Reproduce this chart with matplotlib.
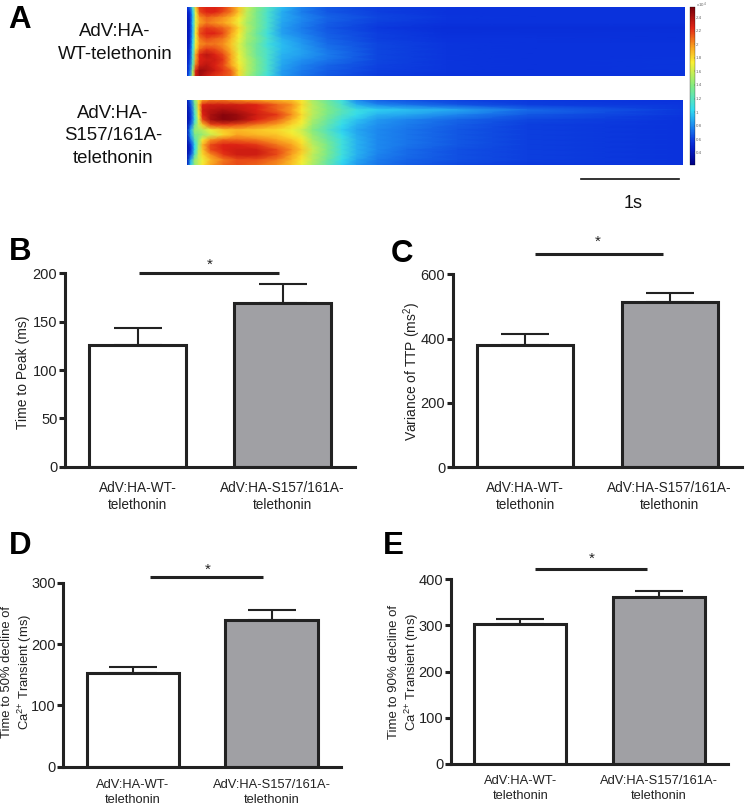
"""Panel figure: Ca2+ transient line scans (A) and bar summaries (B-E)."""
import matplotlib
matplotlib.use("Agg")
import matplotlib.pyplot as plt
from matplotlib.lines import Line2D
from matplotlib.colors import LinearSegmentedColormap, Normalize
from matplotlib.transforms import Affine2D

plt.rcParams["font.family"] = ["Liberation Sans", "DejaVu Sans"]
plt.rcParams["mathtext.default"] = "regular"

W, H = 745, 806
INK = "#222222"
GREY = "#a0a0a4"

# heatmap data, fluorescence x10^4, rows top to bottom
wt_time = [0, .03, .06, .09, .13, .2, .29, .37, .45, .53, .61, .71, .82, .97, 1.17, 1.43, 1.94, 2.65, 3.57, 5.08]
wt_scan = [
    [.55, .70, 1.2, 1.85, 2.20, 2.25, 2.25, 2.20, 2.05, 1.85, 1.60, 1.40, 1.20, .95, .78, .66, .60, .57, .56, .56],
    [.45, .55, 1.0, 1.70, 2.15, 2.25, 2.25, 2.15, 2.05, 1.85, 1.55, 1.35, 1.15, .90, .76, .66, .60, .56, .56, .56],
    [.40, .52, .95, 1.70, 2.00, 2.10, 2.05, 2.00, 1.90, 1.75, 1.55, 1.35, 1.15, .90, .80, .70, .62, .57, .56, .56],
    [.38, .50, 1.0, 1.65, 1.95, 2.05, 2.00, 1.95, 1.85, 1.70, 1.50, 1.35, 1.15, .88, .78, .68, .60, .56, .56, .56],
    [.38, .50, .95, 1.70, 2.10, 2.20, 2.15, 2.10, 2.00, 1.80, 1.55, 1.35, 1.15, .86, .76, .66, .58, .54, .54, .54],
    [.38, .50, .95, 1.75, 2.15, 2.25, 2.25, 2.15, 1.95, 1.75, 1.50, 1.30, 1.10, .86, .78, .68, .60, .55, .55, .55],
    [.38, .52, 1.0, 1.70, 2.05, 2.15, 2.10, 2.05, 1.90, 1.70, 1.50, 1.35, 1.15, .92, .82, .70, .60, .56, .56, .55],
    [.38, .52, 1.05, 1.75, 2.00, 2.05, 2.05, 2.00, 1.85, 1.65, 1.45, 1.30, 1.10, .94, .84, .72, .62, .57, .56, .56],
    [.40, .58, 1.1, 1.80, 2.10, 2.20, 2.15, 2.05, 1.90, 1.65, 1.50, 1.30, 1.15, .94, .86, .74, .62, .57, .56, .56],
    [.42, .58, 1.15, 1.95, 2.25, 2.35, 2.25, 2.15, 1.95, 1.70, 1.50, 1.30, 1.15, .92, .86, .76, .62, .57, .56, .56],
    [.44, .62, 1.2, 1.95, 2.25, 2.30, 2.30, 2.20, 1.95, 1.70, 1.55, 1.35, 1.15, .90, .82, .74, .62, .57, .56, .57],
    [.46, .68, 1.3, 2.05, 2.30, 2.35, 2.25, 2.15, 1.95, 1.75, 1.55, 1.35, 1.15, .88, .78, .70, .61, .57, .56, .57],
    [.46, .72, 1.5, 2.25, 2.45, 2.40, 2.30, 2.20, 2.10, 1.80, 1.55, 1.35, 1.15, .85, .76, .68, .60, .57, .56, .57],
    [.50, .82, 1.6, 2.30, 2.42, 2.30, 2.20, 2.15, 2.10, 1.80, 1.50, 1.30, 1.10, .84, .74, .66, .59, .56, .56, .56],
]
mut_time = [0, .04, .08, .12, .16, .24, .37, .51, .71, .92, 1.07, 1.17, 1.28, 1.43, 1.58, 1.73, 1.94, 2.24, 2.76, 3.47, 5.06]
mut_scan = [
    [.40, .75, 1.40, 1.75, 1.95, 2.05, 2.05, 2.00, 1.95, 1.90, 1.85, 1.75, 1.50, 1.30, 1.10, .80, .68, .64, .60, .58, .56],
    [.36, .66, 1.30, 1.85, 2.25, 2.30, 2.30, 2.30, 2.25, 2.10, 2.00, 1.80, 1.55, 1.35, 1.15, .92, .80, .74, .66, .60, .57],
    [.34, .62, 1.20, 1.80, 2.30, 2.35, 2.40, 2.35, 2.25, 2.10, 1.95, 1.75, 1.55, 1.38, 1.22, 1.08, 1.00, .95, .88, .72, .58],
    [.33, .58, 1.15, 1.75, 2.25, 2.40, 2.50, 2.45, 2.30, 2.20, 2.00, 1.80, 1.55, 1.35, 1.18, 1.05, .92, .88, .78, .66, .57],
    [.33, .58, 1.10, 1.65, 2.15, 2.40, 2.50, 2.45, 2.25, 2.10, 1.90, 1.75, 1.50, 1.30, 1.10, .96, .84, .78, .70, .62, .56],
    [.36, .70, 1.30, 1.60, 1.85, 2.15, 2.20, 2.15, 2.05, 1.95, 1.80, 1.70, 1.45, 1.25, 1.05, .92, .82, .76, .68, .60, .56],
    [.40, .92, 1.45, 1.50, 1.55, 1.70, 1.85, 1.90, 1.85, 1.80, 1.70, 1.60, 1.40, 1.20, 1.00, .88, .80, .74, .66, .60, .56],
    [.40, .88, 1.35, 1.40, 1.45, 1.60, 1.80, 1.95, 1.90, 1.85, 1.75, 1.65, 1.45, 1.25, 1.05, .90, .80, .74, .66, .60, .56],
    [.36, .75, 1.20, 1.45, 1.75, 2.00, 2.10, 2.10, 2.05, 1.95, 1.85, 1.75, 1.50, 1.30, 1.10, .92, .80, .74, .66, .60, .56],
    [.33, .58, 1.05, 1.50, 1.90, 2.15, 2.25, 2.25, 2.20, 2.05, 1.95, 1.80, 1.55, 1.35, 1.10, .92, .80, .74, .66, .60, .56],
    [.33, .54, 1.05, 1.55, 1.85, 2.15, 2.25, 2.30, 2.30, 2.15, 2.00, 1.85, 1.60, 1.35, 1.10, .92, .80, .72, .64, .60, .56],
    [.36, .66, 1.20, 1.60, 1.80, 2.00, 2.20, 2.30, 2.30, 2.15, 1.95, 1.80, 1.55, 1.35, 1.10, .92, .78, .72, .64, .60, .56],
    [.38, .90, 1.45, 1.60, 1.70, 1.90, 2.05, 2.15, 2.15, 2.05, 1.90, 1.75, 1.55, 1.30, 1.05, .88, .76, .70, .64, .60, .56],
    [.44, 1.00, 1.45, 1.60, 1.75, 1.95, 2.10, 2.15, 2.10, 2.00, 1.85, 1.70, 1.50, 1.25, 1.00, .84, .74, .68, .62, .58, .56],
]
cbar_ticks = [0.4, 0.6, 0.8, 1, 1.2, 1.4, 1.6, 1.8, 2, 2.2, 2.4]

# jet as it looks in the scanned figure, a bit duller than the real one
scan_cmap = LinearSegmentedColormap.from_list("scan_jet", [
    (0.00, "#000082"), (0.10, "#051ec8"), (0.146, "#0a32dc"), (0.25, "#1e8cf0"),
    (0.35, "#32dcf0"), (0.50, "#82eb82"), (0.65, "#faf032"), (0.75, "#faa01e"),
    (0.87, "#e12314"), (1.00, "#78000a"),
])

# bar data
groups = ["AdV:HA-WT-\ntelethonin", "AdV:HA-S157/161A-\ntelethonin"]
ttp_mean, ttp_err = [126, 169], [17, 20]
var_mean, var_err = [380, 513], [33, 28]
t50_mean, t50_err = [152, 240], [10, 15]
t90_mean, t90_err = [302, 362], [12, 13]


fig = plt.figure(figsize=(W / 100, H / 100), dpi=100)
# pixel coordinates, y down, same as the reference image
px = Affine2D().scale(1 / W, -1 / H).translate(0, 1) + fig.transFigure


def box(x0, y0, x1, y1):
    return fig.add_axes([x0 / W, 1 - y1 / H, (x1 - x0) / W, (y1 - y0) / H])


def scan(ax, t, rows, norm):
    mesh = ax.pcolormesh(t, range(len(rows)), rows, cmap=scan_cmap, norm=norm,
                         shading="gouraud", rasterized=True)
    ax.set_xlim(t[0], t[-1])
    ax.set_ylim(len(rows) - 1, 0)
    ax.axis("off")
    return mesh


def bars(rect, mean, err, ymax, yticks, ylabel, label_xy, sig, star_px,
         cat_size=9.8, cat_pad=10, label_size=10):
    ax = box(*rect)
    ax.bar([0, 1], mean, width=0.665, color=["white", GREY], edgecolor=INK,
           linewidth=2.2, zorder=2)
    ax.errorbar([0, 1], mean, yerr=[[0, 0], err], fmt="none", ecolor=INK,
                elinewidth=1.5, capsize=17, capthick=1.5, zorder=1)
    ax.set_xlim(-0.5, 1.5)
    ax.set_ylim(0, ymax)
    ax.set_yticks(yticks)
    ax.set_xticks([0, 1], groups, linespacing=1.3)
    ax.tick_params(axis="x", length=0, pad=cat_pad, labelsize=cat_size, labelcolor=INK)
    ax.tick_params(axis="y", length=4.5, width=2.2, color=INK, pad=1,
                   labelsize=10.5, labelcolor=INK)
    for side in ("top", "right"):
        ax.spines[side].set_visible(False)
    for side in ("left", "bottom"):
        ax.spines[side].set_linewidth(2.2)
        ax.spines[side].set_color(INK)
    ax.set_ylabel(ylabel, fontsize=label_size, color=INK, va="center", linespacing=1.15)
    ax.yaxis.set_label_coords(*label_xy, transform=px)
    ax.plot(sig[:2], [sig[2], sig[2]], color=INK, lw=2.2, clip_on=False,
            solid_capstyle="butt")
    fig.text(*star_px, "*", transform=px, fontsize=11, color=INK,
             ha="center", va="center")
    return ax


# panel A
norm = Normalize(0.22, 2.55)
mesh = scan(box(187, 7, 685, 76), wt_time, wt_scan, norm)
scan(box(187, 100, 683, 165), mut_time, mut_scan, norm)

cax = box(689.5, 7, 695, 165)
cb = fig.colorbar(mesh, cax=cax)
cb.set_ticks(cbar_ticks, labels=[f"{v:g}" for v in cbar_ticks])
cb.ax.tick_params(labelsize=3.2, length=1, width=0.3, pad=0.8, direction="in",
                  color="#555555", labelcolor="#666666")
cb.outline.set_linewidth(0.2)
fig.text(696, 5, r"x10$^4$", transform=px, fontsize=3.2, color="#666666", va="center")

fig.add_artist(Line2D([581, 679], [179, 179], transform=px, color="#111111", lw=1.2))
fig.text(633, 204, "1s", transform=px, fontsize=13, color="#111111",
         ha="center", va="center")

fig.text(115, 43, "AdV:HA-\nWT-telethonin", transform=px, fontsize=13.4, color="#111111",
         ha="center", va="center", linespacing=1.4)
fig.text(113, 136, "AdV:HA-\nS157/161A-\ntelethonin", transform=px, fontsize=13.4,
         color="#111111", ha="center", va="center", linespacing=1.4)

# panels B-E
bars((65, 273.3, 355, 466.7), ttp_mean, ttp_err, 200, [0, 50, 100, 150, 200],
     "Time to Peak (ms)", (23, 372), (0.007, 0.976, 200.6), (210, 265))
bars((453, 274.3, 741.7, 467.3), var_mean, var_err, 600, [0, 200, 400, 600],
     "Variance of TTP (ms$^2$)", (412, 372), (0.065, 0.956, 662), (597.7, 242))
bars((63.5, 582.7, 341, 766.7), t50_mean, t50_err, 300, [0, 100, 200, 300],
     "Time to 50% decline of\nCa$^{2{+}}$ Transient (ms)", (17.5, 672),
     (0.12, 0.935, 309), (208, 570), cat_size=9.3, cat_pad=9, label_size=9.4)
bars((451, 579.3, 727.7, 763.7), t90_mean, t90_err, 400, [0, 100, 200, 300, 400],
     "Time to 90% decline of\nCa$^{2{+}}$ Transient (ms)", (404.5, 672),
     (0.11, 0.92, 423), (591.7, 559), cat_size=9.3, cat_pad=8, label_size=9.5)

# panel letters
for letter, x, y in [("A", 8, 28), ("B", 9, 260), ("C", 391, 262), ("D", 9, 554), ("E", 383, 554)]:
    fig.text(x, y, letter, transform=px, fontsize=22.5, fontweight="bold",
             color="black", ha="left", va="baseline")

fig.savefig("out.png", dpi=100)
